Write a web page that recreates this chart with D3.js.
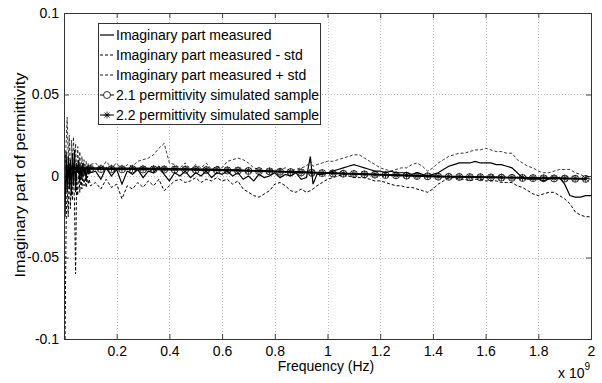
<!DOCTYPE html>
<html>
<head>
<meta charset="utf-8">
<script src="https://cdn.jsdelivr.net/npm/d3@7"></script>
<style>
  body { margin: 0; background: #fff; }
  svg { display: block; }
  text { font-family: "Liberation Sans", Arial, sans-serif; fill: #000; }
</style>
</head>
<body>
<svg id="chart" width="602" height="383"></svg>
<script>
// frequency in GHz (axis multiplier x 10^9)
const freq = [
  0.004, 0.008, 0.012, 0.016, 0.020, 0.024, 0.028, 0.032, 0.036, 0.040,
  0.044, 0.048, 0.052, 0.056, 0.060, 0.064, 0.068, 0.072, 0.076, 0.080,
  0.084, 0.088, 0.092, 0.096, 0.100,
  0.12, 0.14, 0.16, 0.18, 0.20, 0.22, 0.24, 0.26, 0.28, 0.30,
  0.32, 0.34, 0.36, 0.38, 0.40, 0.42, 0.44, 0.46, 0.48, 0.50,
  0.52, 0.54, 0.56, 0.58, 0.60, 0.62, 0.64, 0.66, 0.68, 0.70,
  0.72, 0.74, 0.76, 0.78, 0.80, 0.82, 0.84, 0.86, 0.88, 0.90,
  0.92, 0.935, 0.945, 0.96, 0.98, 1.00, 1.02, 1.04, 1.06, 1.08, 1.10,
  1.12, 1.14, 1.16, 1.18, 1.20, 1.22, 1.24, 1.26, 1.28, 1.30,
  1.32, 1.34, 1.36, 1.38, 1.40, 1.42, 1.44, 1.46, 1.48, 1.50,
  1.52, 1.54, 1.56, 1.58, 1.60, 1.62, 1.64, 1.66, 1.68, 1.70,
  1.72, 1.74, 1.76, 1.78, 1.80, 1.82, 1.84, 1.86, 1.88, 1.90,
  1.92, 1.94, 1.96, 1.98, 2.00
];

// measured values, in units of 1e-3
const measured = [
  -25, 15, -10, 12, -8, 10, -12, 14, -6, 16,
  -10, 8, 2, 10, -4, 6, -2, 8, 0, 5,
  -3, 6, 1, 4, 2,
  3, -2, 5, 0, 4, -5, 3, 1, 4, -1,
  3, 2, 6, 1, -3, 2, 0, 3, -1, 2,
  0, 3, -1, 2, 1, 3, 0, 2, -2, 0,
  -3, 1, -1, 0, 2, -1, 1, 0, 2, -2,
  -1, 12, -5, 1, 1, 2, 3, 4, 5, 6, 7,
  6, 5, 4, 3, 3, 2, 3, 2, 2, 2,
  1, 2, 1, 0, 1, 2, 4, 6, 7, 8,
  8, 8, 9, 8, 8, 8, 7, 7, 6, 5,
  2, -1, -2, -2, -2, -3, -2, -1, -1, -5,
  -12, -13, -13, -12, -12
];

const measuredMinus = [
  -100, -30, -5, -25, 5, -20, 0, -15, 3, -18,
  -60, 0, -12, 4, -10, 0, -8, 2, -6, -1,
  -7, 0, -5, -2, -6,
  -4, -8, -2, -7, -5, -14, -6, -8, -4, -7,
  -3, -6, -2, -9, -6, -3, -2, -4, -3, -1,
  -4, -2, -3, -1, -3, -2, -5, -3, -8, -10,
  -12, -13, -11, -9, -5, -4, -6, -9, -10, -8,
  -10, -9, -8, -6, -4, -2, -1, 0, 1, 0, -1,
  -1, -1, -2, -3, -3, -4, -5, -6, -6, -7,
  -7, -8, -9, -10, -8, -5, -3, -1, -1, -2,
  -2, -3, -2, -2, -3, -3, -3, -4, -4, -4,
  -6, -7, -9, -11, -12, -11, -10, -10, -12, -14,
  -17, -22, -24, -25, -25
];

const measuredPlus = [
  5, 20, 36, 10, 25, -5, 22, 8, 24, 2,
  20, -3, 18, 5, 15, 0, 12, 4, 10, 2,
  9, 3, 8, 1, 7,
  8, 4, 9, 5, 8, 3, 7, 6, 9, 10,
  11, 13, 17, 20, 8, 7, 5, 8, 4, 7,
  5, 8, 4, 6, 5, 9, 10, 11, 10, 8,
  5, 4, 3, 4, 3, 4, 5, 3, 4, 5,
  6, 9, 6, 7, 8, 9, 9, 10, 11, 12, 13,
  13, 11, 9, 7, 5, 4, 3, 4, 5, 5,
  7, 8, 6, 3, 5, 8, 10, 12, 13, 14,
  14, 15, 16, 16, 17, 16, 15, 15, 14, 14,
  10, 8, 6, 5, 3, 2, 2, 3, 4, 4,
  4, 2, 1, -1, -2
];

// simulated samples (GHz, units of 1e-3)
const simFreq = [
  0.02, 0.06, 0.10, 0.14, 0.18, 0.22, 0.26, 0.30, 0.34, 0.38,
  0.42, 0.46, 0.50, 0.54, 0.58, 0.62, 0.66, 0.70, 0.74, 0.78,
  0.82, 0.86, 0.90, 0.94, 0.98, 1.02, 1.06, 1.10, 1.14, 1.18,
  1.22, 1.26, 1.30, 1.34, 1.38, 1.42, 1.46, 1.50, 1.54, 1.58,
  1.62, 1.66, 1.70, 1.74, 1.78, 1.82, 1.86, 1.90, 1.94, 1.98
];
const sim21 = [
  4.2, 4.3, 4.3, 4.2, 4.2, 4.1, 4.1, 4.0, 4.0, 3.9,
  3.9, 3.8, 3.7, 3.6, 3.5, 3.4, 3.3, 3.1, 3.0, 2.8,
  2.6, 2.4, 2.2, 2.0, 1.8, 1.6, 1.4, 1.2, 1.0, 0.8,
  0.6, 0.4, 0.2, 0.0, -0.2, -0.4, -0.5, -0.6, -0.7, -0.8,
  -0.9, -1.0, -1.1, -1.2, -1.3, -1.4, -1.5, -1.6, -1.7, -1.8
];
const sim22 = [
  5.0, 5.0, 4.9, 4.9, 4.8, 4.8, 4.7, 4.7, 4.6, 4.5,
  4.4, 4.3, 4.2, 4.1, 4.0, 3.8, 3.6, 3.4, 3.2, 3.0,
  2.8, 2.6, 2.4, 2.2, 2.0, 1.8, 1.6, 1.4, 1.2, 1.0,
  0.8, 0.6, 0.4, 0.2, 0.0, -0.2, -0.3, -0.4, -0.5, -0.6,
  -0.7, -0.8, -0.9, -1.0, -1.1, -1.2, -1.3, -1.4, -1.5, -1.6
];

const xTicks = [0.2, 0.4, 0.6, 0.8, 1.0, 1.2, 1.4, 1.6, 1.8, 2.0];
const xTickLabels = ['0.2', '0.4', '0.6', '0.8', '1', '1.2', '1.4', '1.6', '1.8', '2'];
const yTicks = [-0.1, -0.05, 0, 0.05, 0.1];
const yTickLabels = ['-0.1', '-0.05', '0', '0.05', '0.1'];
const legendLabels = [
  'Imaginary part measured',
  'Imaginary part measured - std',
  'Imaginary part measured + std',
  '2.1 permittivity simulated sample',
  '2.2 permittivity simulated sample'
];

const plotLeft = 64, plotRight = 591, plotTop = 13, plotBottom = 339;
const svg = d3.select('#chart');

const x = d3.scaleLinear().domain([0, 2]).range([plotLeft, plotRight]);
const y = d3.scaleLinear().domain([-0.1, 0.1]).range([plotBottom, plotTop]);

svg.append('rect').attr('width', 602).attr('height', 383).attr('fill', '#fff');

// dotted grid
const grid = svg.append('g').attr('stroke', '#b8b8b8').attr('stroke-dasharray', '1,2').attr('stroke-width', 1);
grid.selectAll('.gx').data(xTicks.slice(0, -1)).enter().append('line')
    .attr('x1', d => Math.round(x(d)) + 0.5).attr('x2', d => Math.round(x(d)) + 0.5)
    .attr('y1', plotTop).attr('y2', plotBottom);
grid.selectAll('.gy').data(yTicks.slice(1, -1)).enter().append('line')
    .attr('y1', d => Math.round(y(d)) + 0.5).attr('y2', d => Math.round(y(d)) + 0.5)
    .attr('x1', plotLeft).attr('x2', plotRight);

// axes with inward ticks
const fmtX = d => xTickLabels[xTicks.indexOf(d)];
const fmtY = d => yTickLabels[yTicks.indexOf(d)];
svg.append('g').attr('transform', `translate(0,${plotBottom})`)
    .call(d3.axisBottom(x).tickValues(xTicks).tickSize(-5).tickPadding(7).tickFormat(fmtX));
svg.append('g').attr('transform', `translate(0,${plotTop})`)
    .call(d3.axisTop(x).tickValues(xTicks).tickSize(-5).tickFormat(''));
svg.append('g').attr('transform', `translate(${plotLeft},0)`)
    .call(d3.axisLeft(y).tickValues(yTicks).tickSize(-5).tickPadding(5).tickFormat(fmtY));
svg.append('g').attr('transform', `translate(${plotRight},0)`)
    .call(d3.axisRight(y).tickValues(yTicks).tickSize(-5).tickFormat(''));
svg.selectAll('.domain').remove();
svg.selectAll('.tick line').attr('stroke', '#444');
svg.selectAll('.tick text').style('font-size', '14px').attr('font-family', null);

// clip to plot area
svg.append('clipPath').attr('id', 'plot').append('rect')
    .attr('x', plotLeft).attr('y', plotTop).attr('width', plotRight - plotLeft).attr('height', plotBottom - plotTop);
const plot = svg.append('g').attr('clip-path', 'url(#plot)');

const line = d3.line().x(d => x(d[0])).y(d => y(d[1] / 1000));

plot.append('path').datum(d3.zip(freq, measuredPlus)).attr('d', line)
    .attr('fill', 'none').attr('stroke', '#222').attr('stroke-width', 0.9).attr('stroke-dasharray', '3,2');
plot.append('path').datum(d3.zip(freq, measuredMinus)).attr('d', line)
    .attr('fill', 'none').attr('stroke', '#000').attr('stroke-width', 1).attr('stroke-dasharray', '3,2');
plot.append('path').datum(d3.zip(freq, measured)).attr('d', line)
    .attr('fill', 'none').attr('stroke', '#000').attr('stroke-width', 1.2);

const sim21Pts = d3.zip(simFreq, sim21);
const sim22Pts = d3.zip(simFreq, sim22);
plot.append('path').datum(sim21Pts).attr('d', line)
    .attr('fill', 'none').attr('stroke', '#000').attr('stroke-width', 1.6);
plot.append('path').datum(sim22Pts).attr('d', line)
    .attr('fill', 'none').attr('stroke', '#000').attr('stroke-width', 1.6);

function starPath(r) {
  // asterisk like the matlab '*' marker
  const a = r * Math.SQRT1_2;
  return `M${-r},0L${r},0M0,${-r}L0,${r}M${-a},${-a}L${a},${a}M${-a},${a}L${a},${-a}`;
}

plot.selectAll('.m21').data(sim21Pts).enter().append('circle')
    .attr('cx', d => x(d[0])).attr('cy', d => y(d[1] / 1000)).attr('r', 3.5)
    .attr('fill', 'none').attr('stroke', '#000').attr('stroke-width', 0.8);
plot.selectAll('.m22').data(sim22Pts).enter().append('path')
    .attr('transform', d => `translate(${x(d[0])},${y(d[1] / 1000)})`)
    .attr('d', starPath(3.5)).attr('stroke', '#000').attr('stroke-width', 0.8);

// box
svg.append('rect').attr('x', plotLeft + 0.5).attr('y', plotTop + 0.5)
    .attr('width', plotRight - plotLeft).attr('height', plotBottom - plotTop)
    .attr('fill', 'none').attr('stroke', '#333').attr('stroke-width', 1);

// axis titles
svg.append('text').attr('x', 326).attr('y', 371).attr('text-anchor', 'middle')
    .style('font-size', '14px').text('Frequency (Hz)');
const mult = svg.append('text').attr('x', 558).attr('y', 378).style('font-size', '14px');
mult.append('tspan').text('x 10');
mult.append('tspan').attr('dy', -8).style('font-size', '10px').text('9');
svg.append('text').attr('transform', 'translate(25,175) rotate(-90)')
    .attr('text-anchor', 'middle').style('font-size', '14px')
    .attr('textLength', 205).attr('lengthAdjust', 'spacingAndGlyphs')
    .text('Imaginary part of permittivity');

// legend
const legend = svg.append('g');
legend.append('rect').attr('x', 98.5).attr('y', 23.5).attr('width', 222).attr('height', 101)
    .attr('fill', '#fff').attr('stroke', '#333').attr('stroke-width', 1);
const styles = [
  { dash: null, w: 1.2 },
  { dash: '3,2', w: 1 },
  { dash: '3,2', w: 0.9 },
  { dash: null, w: 1, marker: 'circle' },
  { dash: null, w: 1, marker: 'star' }
];
legendLabels.forEach((label, i) => {
  const ly = 35 + i * 20;
  const s = styles[i];
  legend.append('line').attr('x1', 100).attr('x2', 114).attr('y1', ly).attr('y2', ly)
      .attr('stroke', '#000').attr('stroke-width', s.w).attr('stroke-dasharray', s.dash);
  if (s.marker === 'circle') {
    legend.append('circle').attr('cx', 107).attr('cy', ly).attr('r', 3.5)
        .attr('fill', '#fff').attr('stroke', '#000').attr('stroke-width', 0.8);
  } else if (s.marker === 'star') {
    legend.append('path').attr('transform', `translate(107,${ly})`).attr('d', starPath(3.5))
        .attr('stroke', '#000').attr('stroke-width', 0.8);
  }
  legend.append('text').attr('x', 116).attr('y', ly).attr('dy', '0.36em')
      .style('font-size', '14px').text(label);
});
</script>
</body>
</html>
